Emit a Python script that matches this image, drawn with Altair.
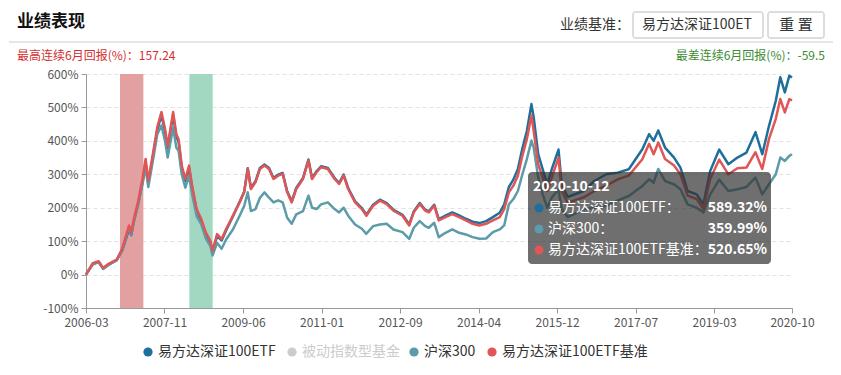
import altair as alt
import pandas as pd

FONT = "Noto Sans CJK SC"

# ---------------- data ----------------
dates = ["2006-03-24", "2006-05-14", "2006-06-27", "2006-07-31", "2006-09-10",
         "2006-11-11", "2006-12-21", "2007-02-11", "2007-02-28", "2007-03-17",
         "2007-04-19", "2007-05-23", "2007-06-16", "2007-07-06", "2007-08-16",
         "2007-09-12", "2007-10-13", "2007-11-09", "2007-11-29", "2008-01-09",
         "2008-02-02", "2008-02-19", "2008-03-14", "2008-04-10", "2008-05-08",
         "2008-05-31", "2008-07-04", "2008-08-08", "2008-09-11", "2008-10-15",
         "2008-11-01", "2008-12-05", "2009-01-08", "2009-02-11", "2009-04-03",
         "2009-05-24", "2009-06-27", "2009-07-24", "2009-08-17", "2009-09-20",
         "2009-10-24", "2009-11-27", "2009-12-31", "2010-02-03", "2010-03-10",
         "2010-04-13", "2010-05-17", "2010-06-20", "2010-07-24", "2010-09-13",
         "2010-10-24", "2010-11-20", "2010-12-24", "2011-01-27", "2011-03-19",
         "2011-05-09", "2011-06-12", "2011-07-16", "2011-08-19", "2011-10-10",
         "2011-11-30", "2012-01-03", "2012-02-23", "2012-04-14", "2012-06-04",
         "2012-07-25", "2012-10-01", "2012-11-21", "2012-12-25", "2013-02-08",
         "2013-03-21", "2013-04-17", "2013-05-28", "2013-07-01", "2013-08-21",
         "2013-10-11", "2013-12-01", "2014-01-21", "2014-03-13", "2014-05-03",
         "2014-06-23", "2014-08-13", "2014-10-03", "2014-11-06", "2014-12-11",
         "2015-01-14", "2015-02-17", "2015-03-23", "2015-04-26", "2015-05-30",
         "2015-06-16", "2015-07-20", "2015-08-23", "2015-09-26", "2015-10-30",
         "2015-12-20", "2016-01-13", "2016-02-27", "2016-06-26", "2016-09-15",
         "2016-12-13", "2017-03-10", "2017-06-01", "2017-09-11", "2017-11-01",
         "2017-12-05", "2018-01-09", "2018-03-01", "2018-05-08", "2018-06-25",
         "2018-08-18", "2018-10-25", "2018-12-15", "2019-02-04", "2019-04-13",
         "2019-06-21", "2019-08-28", "2019-11-04", "2020-01-11", "2020-03-02",
         "2020-04-22", "2020-06-12", "2020-07-16", "2020-08-19", "2020-09-22",
         "2020-10-12"]

etf = [0, 32, 38, 18, 30, 43, 72, 135, 118, 155,
       208, 275, 335, 272, 368, 432, 478, 428, 378, 478,
       412, 398, 318, 280, 318, 260, 190, 160, 120, 96,
       68, 115, 102, 132, 174, 218, 248, 318, 259, 279,
       319, 329, 319, 289, 299, 304, 249, 219, 259, 289,
       344, 289, 309, 324, 319, 289, 274, 299, 259, 219,
       199, 179, 209, 224, 214, 194, 179, 150, 189, 214,
       194, 189, 209, 166, 176, 186, 177, 167, 158, 154,
       160, 172, 185, 210, 262, 284, 316, 378, 430, 510,
       470, 360, 315, 270, 315, 374, 270, 232, 250, 280,
       300, 305, 315, 375, 420, 400, 431, 380, 350, 320,
       250, 240, 210, 310, 374, 330, 350, 365, 426, 360,
       445, 520, 590, 545, 595, 589.32]

hs300 = [0, 30, 37, 17, 29, 44, 74, 140, 120, 155,
         210, 270, 320, 262, 355, 420, 446, 400, 350, 440,
         380, 370, 300, 260, 296, 240, 175, 150, 108, 85,
         57, 95, 77, 105, 135, 176, 205, 246, 190, 196,
         230, 246, 230, 216, 222, 216, 170, 152, 180, 190,
         236, 200, 196, 210, 216, 196, 186, 200, 176, 150,
         137, 122, 145, 150, 152, 135, 127, 107, 140, 160,
         145, 140, 155, 112, 125, 135, 125, 120, 112, 107,
         108, 127, 135, 147, 210, 226, 250, 300, 346, 401,
         380, 290, 240, 200, 230, 255, 195, 172, 195, 200,
         205, 222, 235, 265, 285, 275, 316, 280, 270, 255,
         210, 200, 186, 240, 284, 250, 255, 262, 290, 240,
         270, 300, 350, 340, 355, 359.99]

bench = [0, 34, 40, 20, 32, 45, 77, 147, 125, 162,
         216, 286, 346, 280, 376, 441, 486, 436, 385, 486,
         420, 405, 326, 286, 326, 266, 196, 166, 126, 101,
         72, 121, 106, 136, 176, 216, 246, 316, 256, 276,
         316, 326, 316, 286, 296, 301, 246, 216, 256, 286,
         341, 286, 306, 321, 316, 286, 271, 296, 256, 216,
         196, 176, 206, 221, 211, 191, 176, 147, 186, 211,
         191, 186, 206, 162, 172, 181, 172, 162, 152, 147,
         152, 162, 172, 196, 246, 266, 296, 356, 406, 476,
         430, 330, 290, 250, 290, 350, 250, 215, 231, 250,
         266, 285, 296, 345, 391, 360, 395, 346, 326, 300,
         236, 226, 196, 286, 344, 300, 318, 320, 366, 316,
         406, 466, 525, 485, 525, 520.65]

series_names = ["易方达深证100ETF", "被动指数型基金", "沪深300", "易方达深证100ETF基准"]
series_colors = ["#1f6f9b", "#cccccc", "#5b9ca8", "#e05656"]

band_starts = ["2006-12-05", "2008-05-10"]
band_ends = ["2007-05-30", "2008-11-02"]
band_colors = ["#e3a0a0", "#a2d8c2"]

tick_labels = ["2006-03-24", "2007-11-05", "2009-06-18", "2011-01-31", "2012-09-13",
               "2014-04-27", "2015-12-09", "2017-07-22", "2019-03-05", "2020-10-12"]
y_ticks = [-100, 0, 100, 200, 300, 400, 500, 600]

best_6m = 157.24
worst_6m = -59.5
tip_date = dates[-1]

# ---------------- layout ----------------
W, H = 706, 234
PAD = {"left": 78, "top": 66, "right": 41, "bottom": 59}


def dt(s):
    y, m, d = (int(v) for v in s.split("-"))
    return alt.DateTime(year=y, month=m, date=d)


long_df = pd.DataFrame({
    "date": dates * 3,
    "value": etf + hs300 + bench,
    "series": [series_names[0]] * len(dates) + [series_names[2]] * len(dates)
              + [series_names[3]] * len(dates),
})

color_scale = alt.Scale(domain=series_names, range=series_colors)
x_scale = alt.Scale(domain=[dt(dates[0]), dt(dates[-1])])
y_scale = alt.Scale(domain=[-100, 600], nice=False)

x_axis = alt.Axis(values=[dt(s) for s in tick_labels], format="%Y-%m", title=None,
                  grid=False, labelFontSize=12, labelColor="#555", labelFont=FONT,
                  domainColor="#999", tickColor="#999", tickSize=5, labelPadding=4,
                  labelFlush=False, labelOverlap=False)
y_axis = alt.Axis(values=y_ticks, labelExpr="datum.value + '%'", title=None,
                  grid=True, gridColor="#e2e2e2", gridDash=[4, 3],
                  labelFontSize=12, labelColor="#555", labelFont=FONT,
                  domainColor="#999", tickColor="#999", tickSize=5, labelPadding=3)

bands_df = pd.DataFrame({"start": band_starts, "end": band_ends, "c": band_colors})
bands = alt.Chart(bands_df).mark_rect().encode(
    x=alt.X("start:T", scale=x_scale, axis=x_axis),
    x2="end:T",
    y=alt.value(0), y2=alt.value(H),
    color=alt.Color("c:N", scale=None),
)

line_layers = []
for name in [series_names[0], series_names[2], series_names[3]]:
    line_layers.append(
        alt.Chart(long_df).transform_filter(alt.datum.series == name)
        .mark_line(strokeWidth=2.5, strokeJoin="round")
        .encode(
            x=alt.X("date:T", scale=x_scale, axis=x_axis),
            y=alt.Y("value:Q", scale=y_scale, axis=y_axis),
            color=alt.Color("series:N", scale=color_scale, legend=None),
        )
    )


def txt(s, x, y, size=12, color="#333", weight="normal", align="left"):
    return alt.Chart(pd.DataFrame({"t": [s]})).mark_text(
        align=align, baseline="middle", fontSize=size, color=color,
        fontWeight=weight, font=FONT
    ).encode(x=alt.value(x), y=alt.value(y), text="t:N")


def box(x1, x2, y1, y2, fill, stroke="", radius=0, opacity=1.0):
    kw = dict(fill=fill, cornerRadius=radius, fillOpacity=opacity)
    if stroke:
        kw.update(stroke=stroke, strokeWidth=1)
    return alt.Chart(pd.DataFrame({"a": [0]})).mark_rect(**kw).encode(
        x=alt.value(x1), x2=alt.value(x2), y=alt.value(y1), y2=alt.value(y2))


def hline(x1, x2, y, color):
    return alt.Chart(pd.DataFrame({"a": [0]})).mark_rule(color=color, strokeWidth=1).encode(
        x=alt.value(x1), x2=alt.value(x2), y=alt.value(y))


# header
header = [
    txt("业绩表现", -69, -52, size=17, color="#111", weight="bold"),
    hline(-77, 747, -32, "#cccccc"),
    txt(f"最高连续6月回报(%)：{best_6m}", -69, -18, size=12, color="#d32f2f"),
    txt(f"最差连续6月回报(%)：{worst_6m}", 739, -18, size=12, color="#3a8c2f", align="right"),
    txt("业绩基准：", 544, -49, size=14, color="#333", align="right"),
    box(547, 677, -62, -36, "#ffffff", stroke="#bbbbbb", radius=2),
    txt("易方达深证100ET", 556, -49, size=14, color="#333"),
    box(682, 738, -62, -36, "#ffffff", stroke="#bbbbbb", radius=2),
    txt("重 置", 710, -49, size=15, color="#333", align="center"),
]

# legend
legend_x = [62, 206, 328, 406]
legend_df = pd.DataFrame({"series": series_names, "lx": legend_x,
                          "tx": [v + 10 for v in legend_x],
                          "tc": ["#333", "#cccccc", "#333", "#333"]})
legend_dots = alt.Chart(legend_df).mark_circle(size=85, opacity=1).encode(
    x=alt.X("lx:Q", scale=None, axis=None), y=alt.value(278),
    color=alt.Color("series:N", scale=color_scale, legend=None))
legend_text = alt.Chart(legend_df).mark_text(
    align="left", baseline="middle", fontSize=14, font=FONT).encode(
    x=alt.X("tx:Q", scale=None, axis=None), y=alt.value(278),
    text="series:N", color=alt.Color("tc:N", scale=None))

# tooltip overlay
tip_vals = [etf[-1], hs300[-1], bench[-1]]
tip_names = [series_names[0], series_names[2], series_names[3]]
tip_df = pd.DataFrame({
    "series": tip_names,
    "label": ["易方达深证100ETF：", "沪深300：", "易方达深证100ETF基准："],
    "val": [f"{v:.2f}%" for v in tip_vals],
    "ry": [134, 155, 176],
})
tip_box = box(442, 685, 98, 190, "#323232", radius=4, opacity=0.7)
tip_date_t = txt(tip_date, 447, 113, size=14, color="#ffffff", weight="bold")
tip_dots = alt.Chart(tip_df).mark_circle(size=80, opacity=1).encode(
    x=alt.value(453), y=alt.Y("ry:Q", scale=None, axis=None),
    color=alt.Color("series:N", scale=color_scale, legend=None))
tip_labels = alt.Chart(tip_df).mark_text(
    align="left", baseline="middle", fontSize=14, font=FONT, color="#ffffff").encode(
    x=alt.value(462), y=alt.Y("ry:Q", scale=None, axis=None), text="label:N")
tip_values = alt.Chart(tip_df).mark_text(
    align="right", baseline="middle", fontSize=14, font=FONT, color="#ffffff",
    fontWeight="bold").encode(
    x=alt.value(681), y=alt.Y("ry:Q", scale=None, axis=None), text="val:N")

chart = alt.layer(
    bands, *line_layers, *header, legend_dots, legend_text,
    tip_box, tip_date_t, tip_dots, tip_labels, tip_values,
).properties(
    width=W, height=H,
    autosize=alt.AutoSizeParams(type="none"),
    padding=PAD,
    background="#ffffff",
).configure_view(stroke="transparent")

chart.save("out.html", embed_options={"renderer": "svg", "actions": False})
